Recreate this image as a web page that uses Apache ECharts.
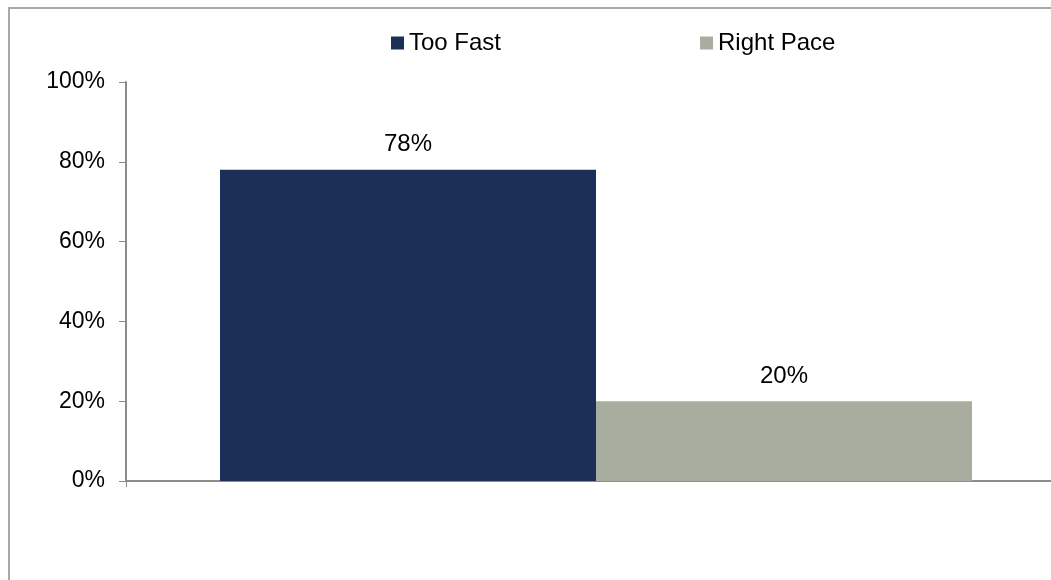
<!DOCTYPE html>
<html><head><meta charset="utf-8">
<script src="https://cdn.jsdelivr.net/npm/echarts@6/dist/echarts.min.js"></script>
<style>html,body{margin:0;padding:0;background:#fff;overflow:hidden;width:1051px;height:580px}#c{width:1080px;height:580px}</style>
</head><body><div id="c"></div>
<script>
const categories = [''];
const seriesNames = ['Too Fast', 'Right Pace'];
const tooFast = [78];
const rightPace = [20];
const yTicks = [0, 20, 40, 60, 80, 100];

const chart = echarts.init(document.getElementById('c'));
const font = 'Liberation Sans, Arial, sans-serif';
chart.setOption({
  animation: false,
  graphic: [{type: 'rect', shape: {x: 9, y: 8, width: 1100, height: 600}, style: {fill: 'none', stroke: '#a6ab9f', lineWidth: 2}, silent: true}],
  legend: {
    data: seriesNames, left: 391, top: 31, padding: 0, itemWidth: 13, itemHeight: 13, itemGap: 199, icon: 'rect',
    textStyle: {fontFamily: font, fontSize: 24, color: '#000'}
  },
  grid: {left: 126, right: 14, top: 82, bottom: 99, containLabel: false},
  xAxis: {type: 'category', data: categories,
    axisLine: {lineStyle: {color: '#8c8c8c', width: 2}}, axisTick: {show: true, length: 6, lineStyle: {color: '#8c8c8c'}}, axisLabel: {show: false}},
  yAxis: {type: 'value', min: yTicks[0], max: yTicks[yTicks.length - 1], interval: 20,
    axisLine: {show: true, lineStyle: {color: '#8c8c8c', width: 2}},
    axisTick: {show: true, length: 7, lineStyle: {color: '#8c8c8c'}},
    splitLine: {show: false},
    axisLabel: {margin: 21, fontFamily: font, fontSize: 23, color: '#000', formatter: v => v + '%'}},
  series: [
    {name: seriesNames[0], type: 'bar', data: tooFast, barGap: '0%', barCategoryGap: '20%', itemStyle: {color: '#1b2f57'},
      label: {show: true, position: 'top', distance: 13, fontFamily: font, fontSize: 24, color: '#000', formatter: p => p.value + '%'}},
    {name: seriesNames[1], type: 'bar', data: rightPace, itemStyle: {color: '#a8ada0'},
      label: {show: true, position: 'top', distance: 13, fontFamily: font, fontSize: 24, color: '#000', formatter: p => p.value + '%'}}
  ]
});
</script></body></html>
